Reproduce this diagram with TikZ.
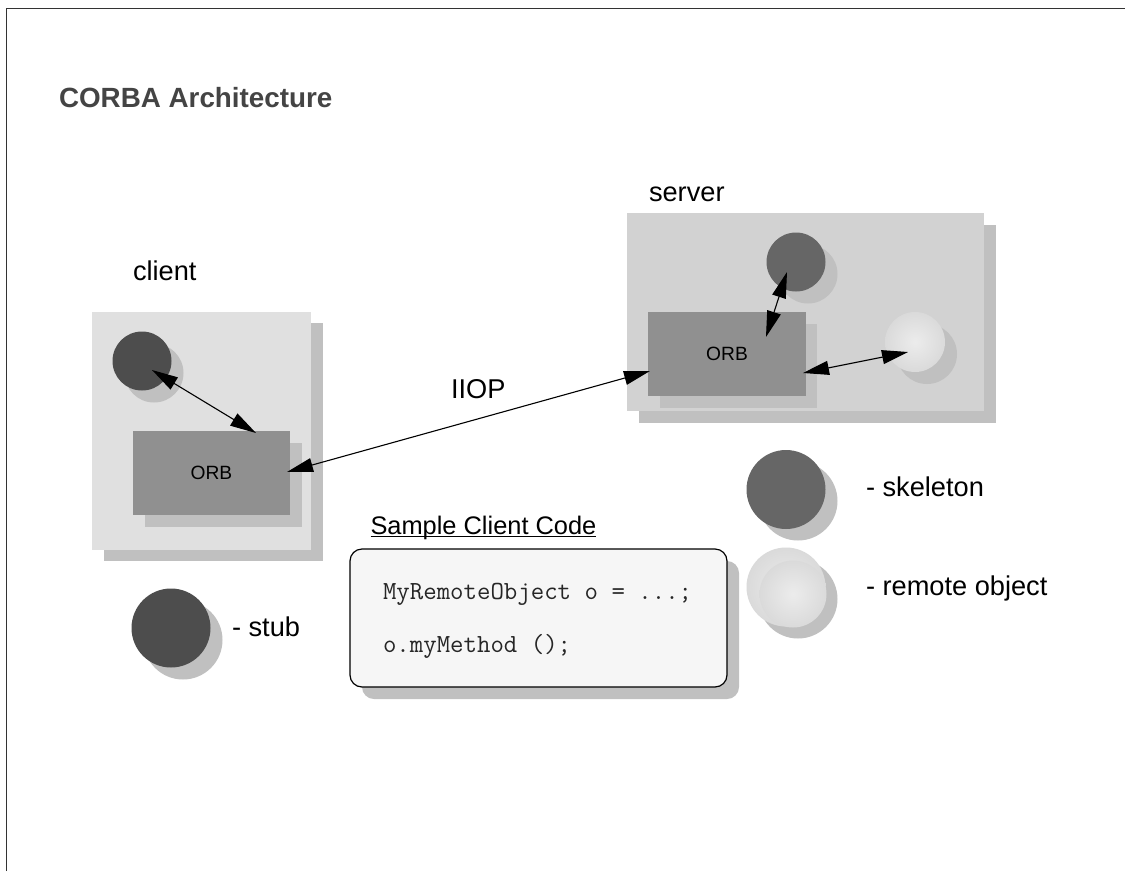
\documentclass[tikz,border=0pt]{standalone}
\usepackage{fontspec}
\setmainfont{Liberation Sans}
\usetikzlibrary{arrows.meta,calc}
\definecolor{shadowgray}{HTML}{C0C0C0}
\definecolor{clientbg}{HTML}{E0E0E0}
\definecolor{serverbg}{HTML}{D2D2D2}
\definecolor{orbgray}{HTML}{909090}
\definecolor{stubgray}{HTML}{4D4D4D}
\definecolor{skelgray}{HTML}{666666}
\definecolor{codebg}{HTML}{F6F6F6}
\definecolor{titlegray}{HTML}{444444}
\definecolor{ballcentre}{HTML}{ECECEC}
\definecolor{balledge}{HTML}{C8C8C8}
\pgfdeclareradialshading{ballshade}{\pgfpointorigin}{color(0bp)=(ballcentre); color(50bp)=(balledge); color(100bp)=(balledge)}
\tikzset{
  px/.style={x=1pt,y=-1pt},
  shadow/.style={fill=shadowgray,draw=none},
  dbl/.style={{Triangle[length=26pt,width=14pt]}-{Triangle[length=26pt,width=14pt]},line width=1.1pt,black},
  lbl/.style={inner sep=0pt,outer sep=0pt,anchor=base west,text=black,font=\fontsize{27.2}{32}\selectfont},
  orblbl/.style={inner sep=0pt,outer sep=0pt,text=black,font=\fontsize{19.2}{23}\selectfont},
  code/.style={inner sep=0pt,outer sep=0pt,anchor=base west,text=black!85,font=\fontsize{26.1}{30}\ttfamily},
  ball/.style={shading=ballshade}
}
\newsavebox{\ulbox}
\newcommand{\closeul}[1]{\sbox{\ulbox}{#1}\rlap{\rule[-3pt]{\wd\ulbox}{1.4pt}}\usebox{\ulbox}}
\begin{document}
\begin{tikzpicture}[px]
\useasboundingbox (0,0) rectangle (1125,871);
\fill[white] (0,0) rectangle (1125,871);
\draw[line width=1.4pt,black!80] (6.5,871) -- (6.5,8.5) -- (1125,8.5);

\node[inner sep=0pt,outer sep=0pt,anchor=base west,text=titlegray,font=\fontsize{27.8}{32}\bfseries\selectfont] (title) at (59,107) {CORBA Architecture};

% client
\fill[shadow] (104,323) rectangle (323,561);
\fill[clientbg] (92,312) rectangle (311,550);
\fill[shadow] (154,373) circle (29.5);
\node[circle,fill=stubgray,minimum size=59pt,inner sep=0pt,outer sep=0pt] (stub) at (142,361) {};
\fill[shadow] (145,443) rectangle (302,527);
\node[fill=orbgray,minimum width=157pt,minimum height=84pt,inner sep=0pt,outer sep=0pt,orblbl] (corb) at (211.5,473) {ORB};
\node[lbl] (client) at (133,280.5) {client};

% server
\fill[shadow] (639,225) rectangle (996,423);
\fill[serverbg] (627,213) rectangle (984,411);
\fill[shadow] (808,274) circle (29.5);
\node[circle,fill=skelgray,minimum size=59pt,inner sep=0pt,outer sep=0pt] (skel) at (796,262) {};
\fill[shadow] (927,354) circle (30);
\shade[ball] (915,342) circle (30);
\coordinate (remote) at (915,342);
\fill[shadow] (660,324) rectangle (817,408);
\node[fill=orbgray,minimum width=158pt,minimum height=84pt,inner sep=0pt,outer sep=0pt,orblbl] (sorb) at (727,354) {ORB};
\node[lbl] (server) at (649,201) {server};

% arrows
\coordinate (a1) at (152,370);
\coordinate (a2) at (256,433);
\coordinate (b1) at (287,472);
\coordinate (b2) at (650,371);
\coordinate (c1) at (787,272);
\coordinate (c2) at (766,337);
\coordinate (d1) at (803,373);
\coordinate (d2) at (908,352);
\draw[dbl] (a1) -- (a2);
\draw[dbl] (b1) -- (b2);
\draw[dbl] (c1) -- (c2);
\draw[dbl] (d1) -- (d2);
\node[lbl] (iiop) at (451,398.5) {IIOP};

% legends
\fill[shadow] (183,640) circle (39.5);
\node[circle,fill=stubgray,minimum size=79pt,inner sep=0pt,outer sep=0pt] (lstub) at (171,628) {};
\node[lbl] (lstubt) at (232,636) {- stub};
\fill[shadow] (798,501) circle (39.5);
\node[circle,fill=skelgray,minimum size=79pt,inner sep=0pt,outer sep=0pt] (lskel) at (786,489.5) {};
\node[lbl] (lskelt) at (866,496) {- skeleton};
\fill[shadow] (798,599) circle (39.5);
\shade[ball] (786,587) circle (39.5);
\shade[ball] (793,594) circle (33.5);
\coordinate (lremote) at (786,587);
\node[lbl] (lremt) at (866,595) {- remote object};

% code box
\node[lbl,font=\fontsize{25.4}{30}\selectfont] (samp) at (370.5,534) {\closeul{Sample Client Code}};
\fill[shadow,rounded corners=12pt] (362,561) rectangle (739,699);
\draw[fill=codebg,draw=black,line width=1.2pt,rounded corners=12pt] (350,549) rectangle (727,687);
\node[code] (c1t) at (383,599) {MyRemoteObject o = ...;};
\node[code] (c2t) at (383,652) {o.myMethod ();};
\end{tikzpicture}
\end{document}
